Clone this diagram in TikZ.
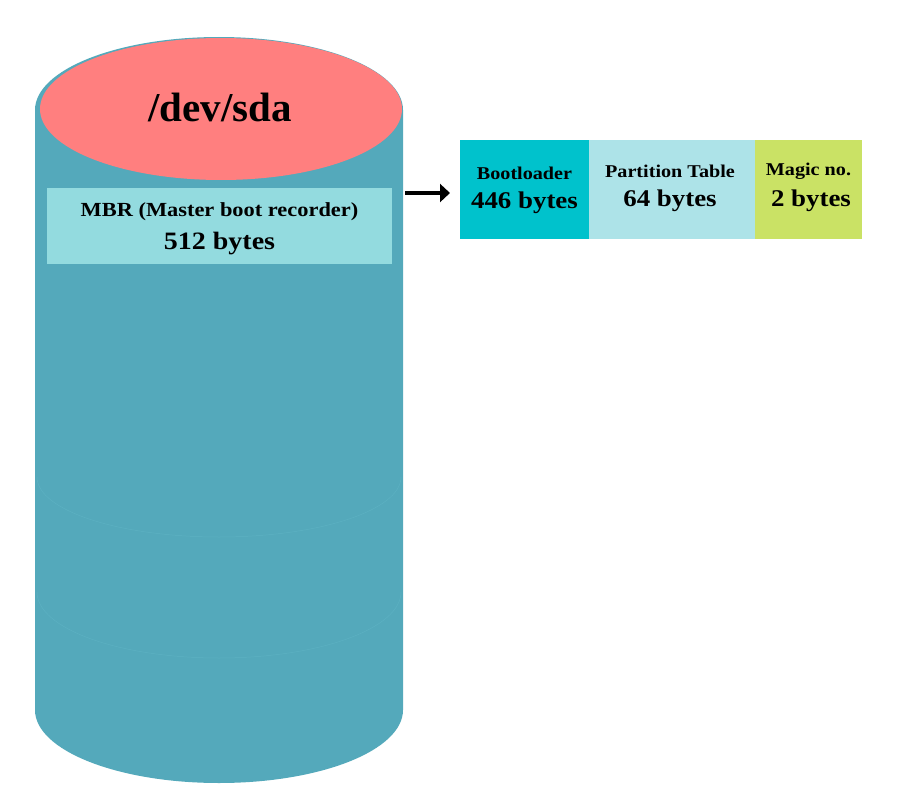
\documentclass[tikz,border=0pt]{standalone}
\usepackage{fontspec}
\setmainfont{Liberation Serif}
\newfontfamily\widefont[FakeStretch=1.12]{Liberation Serif}
\usetikzlibrary{arrows.meta,shapes.geometric}
\definecolor{body}{HTML}{54A9BB}
\definecolor{bodyline}{HTML}{5CB1C2}
\definecolor{topc}{HTML}{FF7F7F}
\definecolor{mbrc}{HTML}{93DBDF}
\definecolor{bootc}{HTML}{00C2CC}
\definecolor{partc}{HTML}{ADE3E8}
\definecolor{magc}{HTML}{CAE265}
\tikzset{
  seg/.style={minimum height=99pt, inner sep=0pt, anchor=north west},
  ttl/.style={font=\widefont\fontsize{18}{20}\selectfont\bfseries},
  big/.style={font=\widefont\fontsize{24}{26}\selectfont\bfseries}
}
\begin{document}
\begin{tikzpicture}[x=1pt,y=-1pt]
\useasboundingbox (0,0) rectangle (900,800);
% cylinder body
\fill[body] (35,110) -- (35,710) arc[start angle=180,end angle=0,x radius=184,y radius=73] -- (403,110)
  arc[start angle=0,end angle=-180,x radius=184,y radius=73] -- cycle;
% faint disk lines
\draw[bodyline,line width=0.5pt] (37,477) arc[start angle=180,end angle=0,x radius=182,y radius=60];
\draw[bodyline,line width=0.5pt] (37,592) arc[start angle=180,end angle=0,x radius=182,y radius=66];
% top
\node[fill=topc,ellipse,minimum width=362pt,minimum height=142pt,inner sep=0pt] (top) at (221,109) {};
\node[font=\fontsize{41}{44}\selectfont\bfseries] (sda) at (220,107) {/dev/sda};
% MBR box
\node[fill=mbrc,minimum width=345pt,minimum height=76pt,inner sep=0pt] (mbr) at (219.5,226) {};
\node[font=\widefont\fontsize{20}{22}\selectfont\bfseries] (mbrt) at (219.5,212) {MBR (Master boot recorder)};
\node[font=\widefont\fontsize{25}{27}\selectfont\bfseries] (mbrb) at (219.5,244) {512 bytes};
% right segments
\node[seg,fill=bootc,minimum width=129pt] (boot) at (460,140) {};
\node[seg,fill=partc,minimum width=166pt] (part) at (589,140) {};
\node[seg,fill=magc,minimum width=107pt] (mag) at (755,140) {};
\node[ttl] (bt) at (524.5,173) {Bootloader};
\node[big] (bb) at (524.5,203) {446 bytes};
\node[ttl] (pt) at (670,171) {Partition Table};
\node[big] (pb) at (670,201) {64 bytes};
\node[ttl] (mt) at (808.5,171) {Magic no.};
\node[big] (mb) at (811,201) {2 bytes};
% arrow
\coordinate (a1) at (405,193);
\coordinate (a2) at (450,193);
\draw[line width=4.5pt,-{Triangle[length=10pt,width=18pt]}] (a1) -- (a2);
\end{tikzpicture}
\end{document}
